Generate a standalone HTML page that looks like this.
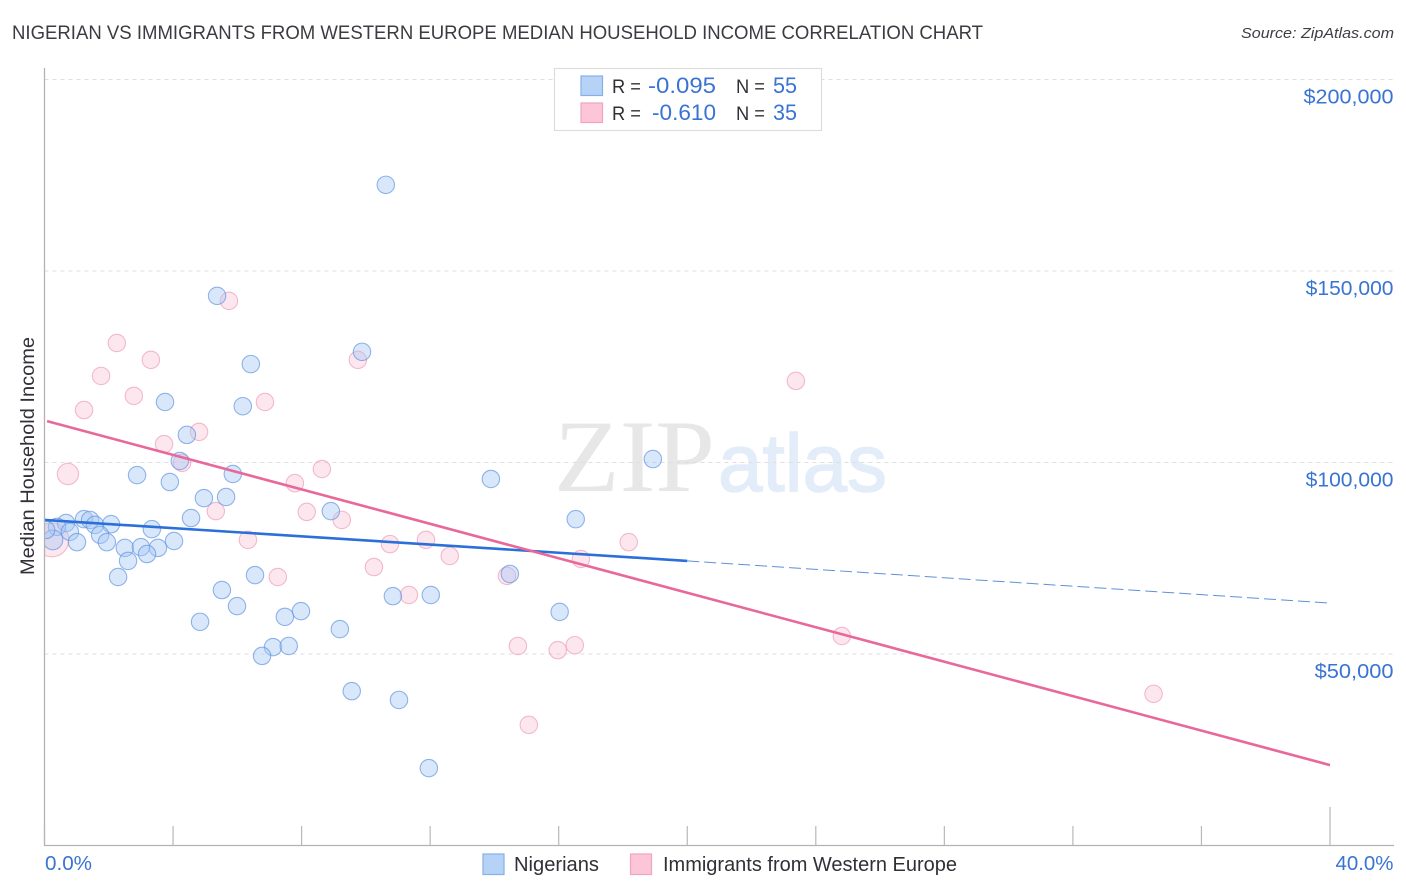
<!DOCTYPE html>
<html lang="en">
<head>
<meta charset="utf-8">
<title>Nigerian vs Immigrants from Western Europe Median Household Income Correlation Chart</title>
<style>
html,body{margin:0;padding:0;background:#fff;}
svg{display:block;font-family:"Liberation Sans",sans-serif;}
</style>
</head>
<body>
<svg id="chart" xmlns="http://www.w3.org/2000/svg" width="1406" height="892" viewBox="0 0 1406 892">
  <defs>
    <clipPath id="plot-clip"><rect x="44.5" y="60" width="1350" height="786"/></clipPath>
  </defs>
  <text x="12" y="39" font-size="19" fill="#3a3c41" textLength="971" lengthAdjust="spacingAndGlyphs">NIGERIAN VS IMMIGRANTS FROM WESTERN EUROPE MEDIAN HOUSEHOLD INCOME CORRELATION CHART</text>
  <text x="1241" y="38" font-size="15" font-style="italic" fill="#3c3f44" textLength="153" lengthAdjust="spacingAndGlyphs">Source: ZipAtlas.com</text>

  <g>
    <text x="554" y="491" font-family="'Liberation Serif',serif" font-size="103" fill="#e7e7e7" textLength="161" lengthAdjust="spacingAndGlyphs">ZIP</text>
    <text x="718" y="491" font-size="82" fill="#e3ecf9" stroke="#e3ecf9" stroke-width="1.4" textLength="169" lengthAdjust="spacingAndGlyphs">atlas</text>
  </g>

  <g id="grid"></g>
  <g id="points" clip-path="url(#plot-clip)"></g>
  <g id="trends"></g>
  <g id="axes"></g>

  <text transform="translate(34 456) rotate(-90)" text-anchor="middle" font-size="19" fill="#2f3136" textLength="238" lengthAdjust="spacingAndGlyphs">Median Household Income</text>

  <g>
    <rect x="554.5" y="68.5" width="267" height="62" fill="#fff" stroke="#dcdcdc" stroke-width="1.2"/>
    <rect x="581" y="76" width="21.5" height="19.5" fill="#b6d2f7" stroke="#85b0ea" stroke-width="1.2"/>
    <rect x="581" y="103" width="21.5" height="19.5" fill="#fcc6d8" stroke="#f0a5be" stroke-width="1.2"/>
    <text x="612" y="93" font-size="19" fill="#2f3136" textLength="29" lengthAdjust="spacingAndGlyphs">R =</text>
    <text x="648" y="93" font-size="22" fill="#3a74d2" textLength="68" lengthAdjust="spacingAndGlyphs">-0.095</text>
    <text x="736" y="93" font-size="19" fill="#2f3136" textLength="29" lengthAdjust="spacingAndGlyphs">N =</text>
    <text x="773" y="93" font-size="22" fill="#3a74d2" textLength="24" lengthAdjust="spacingAndGlyphs">55</text>
    <text x="612" y="120" font-size="19" fill="#2f3136" textLength="29" lengthAdjust="spacingAndGlyphs">R =</text>
    <text x="652" y="120" font-size="22" fill="#3a74d2" textLength="64" lengthAdjust="spacingAndGlyphs">-0.610</text>
    <text x="736" y="120" font-size="19" fill="#2f3136" textLength="29" lengthAdjust="spacingAndGlyphs">N =</text>
    <text x="773" y="120" font-size="22" fill="#3a74d2" textLength="24" lengthAdjust="spacingAndGlyphs">35</text>
  </g>

  <g>
    <rect x="483" y="854" width="21" height="20.5" fill="#b6d2f7" stroke="#85b0ea" stroke-width="1.2"/>
    <text x="514" y="871" font-size="20" fill="#2f3136" textLength="85" lengthAdjust="spacingAndGlyphs">Nigerians</text>
    <rect x="630.5" y="854" width="21" height="20.5" fill="#fcc6d8" stroke="#f0a5be" stroke-width="1.2"/>
    <text x="663" y="871" font-size="20" fill="#2f3136" textLength="294" lengthAdjust="spacingAndGlyphs">Immigrants from Western Europe</text>
  </g>
</svg>
<script>
const yTickValues = [50, 100, 150, 200];
const yTickLabels = ["$50,000", "$100,000", "$150,000", "$200,000"];
const xTickValues = [0, 4, 8, 12, 16, 20, 24, 28, 32, 36, 40];
const xEndLabels = ["0.0%", "40.0%"];

const blueIncomePct = [10.62,5.37,9.88,6.42,3.75,6.17,4.43,18.93,4.21,2.88,5.86,3.90,13.89,4.96,5.65,4.56,8.91,16.53,1.23,1.42,0.67,2.07,1.57,0.39,3.34,1.73,0.79,0.26,1.01,1.94,4.03,2.50,3.00,3.53,3.19,2.60,2.29,6.55,14.48,5.52,10.84,12.02,5.99,7.98,7.48,16.03,4.84,9.19,7.11,7.60,6.77,9.56,11.03,11.96,0.05];
const blueIncomeK = [172.5,143.5,128.9,125.7,115.8,114.7,107.2,100.9,100.4,96.7,97.0,94.9,95.7,90.7,91.0,85.5,87.3,85.2,85.2,85.0,84.2,83.9,83.7,83.2,82.6,81.1,81.9,79.8,79.2,79.2,79.5,77.7,77.9,77.7,76.1,74.3,70.1,70.6,70.9,66.7,65.1,65.4,62.5,61.2,59.7,61.0,58.4,56.5,51.8,52.1,49.5,40.3,38.0,20.2,82.4];
const blueWeights = [1,1,1,1,1,1,1,1,1,1,1,1,1,1,1,1,1,1,1,1,1,1,1,1,1,1,1,1.3,1,1,1,1,1,1,1,1,1,1,1,1,1,1,1,1,1,1,1,1,1,1,1,1,1,1,1];

const pinkIncomePct = [5.74,2.25,3.31,9.75,1.76,23.38,2.78,6.86,1.23,4.81,3.72,4.28,8.63,0.73,7.79,5.33,8.16,9.25,6.33,11.87,10.75,18.18,12.61,0.23,16.69,10.25,7.26,14.39,11.34,24.81,14.73,16.50,15.97,34.51,15.07];
const pinkIncomeK = [142.2,131.2,126.8,126.8,122.6,121.3,117.4,115.8,113.7,108.0,104.8,99.9,98.3,97.0,94.6,87.3,87.1,85.0,79.8,79.8,78.7,79.2,75.6,79.8,74.8,72.7,70.1,70.4,65.4,54.7,52.1,52.3,51.0,39.6,31.5];
const pinkWeights = [1,1,1,1,1,1,1,1,1,1,1,1,1,1.5,1,1,1,1,1,1,1,1,1,3.8,1,1,1,1,1,1,1,1,1,1,1];

const blueTrendPct = [0, 20, 40];
const blueTrendK = [85.0, 74.3, 63.3];
const pinkTrendPct = [0.08, 40];
const pinkTrendK = [110.8, 21.0];

const NS = "http://www.w3.org/2000/svg";
function xScale(pct) { return 44.5 + pct * (1330 - 44.5) / 40; }
function yScale(k) { return 654 - (k - 50) * 3.83; }
function radius(w) { return 8.7 * Math.sqrt(w); }
function tickLabelWidth(label) { return label.length * 11.1 + (label.indexOf("1") >= 0 ? -1 : 1.2); }
function make(tag, attrs) {
  const el = document.createElementNS(NS, tag);
  for (const key in attrs) el.setAttribute(key, attrs[key]);
  return el;
}

const gridG = document.getElementById("grid");
yTickValues.forEach(function (v) {
  const line = make("line", {x1: 44.5, x2: 1394, y1: yScale(v), y2: yScale(v), stroke: "#dedede", "stroke-width": 1, "stroke-dasharray": "4 4"});
  
  
  gridG.appendChild(line);
});

const pointsG = document.getElementById("points");
pinkIncomePct.forEach(function (p, i) {
  const c = make("circle", {cx: xScale(p), cy: yScale(pinkIncomeK[i]), r: radius(pinkWeights[i]), fill: "#f9bcd0", "fill-opacity": 0.36, stroke: "#f0a0ba", "stroke-opacity": 0.72, "stroke-width": 1.1});
  
  
  pointsG.appendChild(c);
});
blueIncomePct.forEach(function (p, i) {
  const c = make("circle", {cx: xScale(p), cy: yScale(blueIncomeK[i]), r: radius(blueWeights[i]), fill: "#a9c9f4", "fill-opacity": 0.44, stroke: "#5f94e0", "stroke-opacity": 0.68, "stroke-width": 1.1});
  
  
  pointsG.appendChild(c);
});

const trendsG = document.getElementById("trends");
const blueSolid = make("line", {x1: xScale(blueTrendPct[0]), y1: yScale(blueTrendK[0]), x2: xScale(blueTrendPct[1]), y2: yScale(blueTrendK[1]), stroke: "#2a70d8", "stroke-width": 2.6});


trendsG.appendChild(blueSolid);
const blueDash = make("line", {x1: xScale(blueTrendPct[1]), y1: yScale(blueTrendK[1]), x2: xScale(blueTrendPct[2]), y2: yScale(blueTrendK[2]), stroke: "#5f8fd8", "stroke-width": 1, "stroke-dasharray": "12 5"});


trendsG.appendChild(blueDash);
const pinkLine = make("line", {x1: xScale(pinkTrendPct[0]), y1: yScale(pinkTrendK[0]), x2: xScale(pinkTrendPct[1]), y2: yScale(pinkTrendK[1]), stroke: "#e9689a", "stroke-width": 2.6});


trendsG.appendChild(pinkLine);

const axesG = document.getElementById("axes");
const yAxis = make("line", {x1: 44.5, x2: 44.5, y1: 68, y2: 846, stroke: "#b2b2b2", "stroke-width": 1.3});


axesG.appendChild(yAxis);
const xAxis = make("line", {x1: 44, x2: 1394, y1: 845.5, y2: 845.5, stroke: "#b2b2b2", "stroke-width": 1.3});


axesG.appendChild(xAxis);

xTickValues.forEach(function (v, i) {
  const top = i === xTickValues.length - 1 ? 807 : 826;
  const tick = make("line", {x1: xScale(v), x2: xScale(v), y1: top, y2: 845, stroke: "#b8b8b8", "stroke-width": 1.2});
  
  
  axesG.appendChild(tick);
});

yTickValues.forEach(function (v, i) {
  const t = make("text", {x: 1393.5, y: yScale(v) + 24, "text-anchor": "end", "font-size": 20, fill: "#3a74d2", textLength: tickLabelWidth(yTickLabels[i]), lengthAdjust: "spacingAndGlyphs"});
  t.textContent = yTickLabels[i];
  
  
  axesG.appendChild(t);
});

const xStart = make("text", {x: 45, y: 870, "font-size": 20, fill: "#3a74d2", textLength: 47, lengthAdjust: "spacingAndGlyphs"});
xStart.textContent = xEndLabels[0];


axesG.appendChild(xStart);
const xEnd = make("text", {x: 1393.5, y: 870, "text-anchor": "end", "font-size": 20, fill: "#3a74d2", textLength: 58, lengthAdjust: "spacingAndGlyphs"});
xEnd.textContent = xEndLabels[1];


axesG.appendChild(xEnd);
</script>
</body>
</html>
